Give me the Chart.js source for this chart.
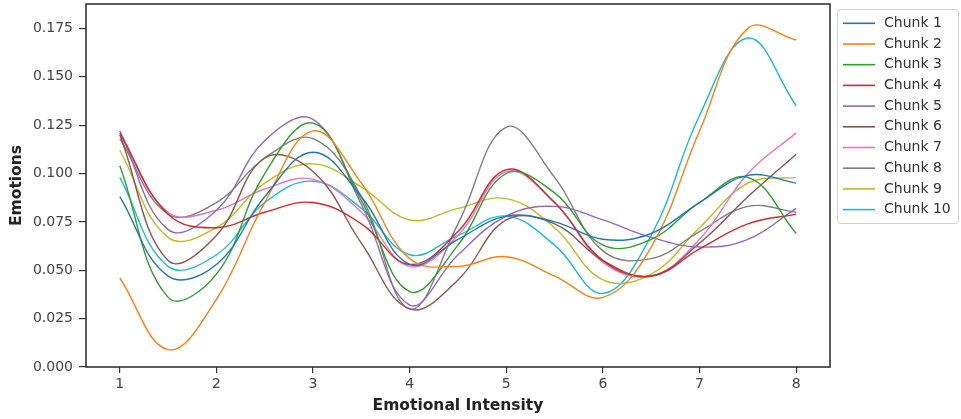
<!DOCTYPE html>
<html>
<head>
<meta charset="utf-8">
<script src="https://cdn.jsdelivr.net/npm/chart.js@4.4.1/dist/chart.umd.min.js"></script>
<style>
  html, body { margin: 0; padding: 0; background: #fff; }
  #wrap { width: 961px; height: 419px; }
</style>
</head>
<body>
<div id="wrap"><canvas id="chart" width="961" height="419"></canvas></div>
<script>
    const intensity = [1, 1.5, 2, 2.5, 3, 3.5, 4, 4.5, 5, 5.5, 6, 6.5, 7, 7.5, 8];

    const chunk1  = [0.088, 0.047, 0.053, 0.088, 0.111, 0.088, 0.053, 0.066, 0.078, 0.075, 0.066, 0.069, 0.085, 0.099, 0.095];
    const chunk2  = [0.046, 0.009, 0.035, 0.085, 0.122, 0.095, 0.056, 0.052, 0.057, 0.047, 0.036, 0.062, 0.122, 0.175, 0.169];
    const chunk3  = [0.104, 0.036, 0.048, 0.100, 0.126, 0.086, 0.039, 0.063, 0.100, 0.090, 0.063, 0.066, 0.085, 0.098, 0.069];
    const chunk4  = [0.121, 0.079, 0.072, 0.080, 0.085, 0.074, 0.053, 0.070, 0.102, 0.085, 0.055, 0.047, 0.061, 0.074, 0.079];
    const chunk5  = [0.122, 0.071, 0.081, 0.117, 0.128, 0.084, 0.032, 0.058, 0.078, 0.083, 0.076, 0.067, 0.062, 0.066, 0.082];
    const chunk6  = [0.120, 0.055, 0.068, 0.108, 0.101, 0.064, 0.030, 0.045, 0.076, 0.074, 0.055, 0.047, 0.064, 0.088, 0.110];
    const chunk7  = [0.120, 0.080, 0.081, 0.092, 0.097, 0.080, 0.052, 0.068, 0.101, 0.085, 0.054, 0.047, 0.066, 0.100, 0.121];
    const chunk8  = [0.118, 0.079, 0.085, 0.108, 0.118, 0.088, 0.030, 0.074, 0.124, 0.098, 0.060, 0.056, 0.070, 0.083, 0.080];
    const chunk9  = [0.112, 0.067, 0.072, 0.095, 0.105, 0.093, 0.076, 0.082, 0.087, 0.072, 0.045, 0.048, 0.072, 0.095, 0.098];
    const chunk10 = [0.098, 0.052, 0.058, 0.085, 0.096, 0.082, 0.058, 0.068, 0.078, 0.063, 0.038, 0.068, 0.130, 0.170, 0.135];

    const seriesNames = ["Chunk 1", "Chunk 2", "Chunk 3", "Chunk 4", "Chunk 5",
                         "Chunk 6", "Chunk 7", "Chunk 8", "Chunk 9", "Chunk 10"];
    const seriesValues = [chunk1, chunk2, chunk3, chunk4, chunk5, chunk6, chunk7, chunk8, chunk9, chunk10];
    const colors = ["#1f77b4", "#ff7f0e", "#2ca02c", "#d62728", "#9467bd",
                    "#8c564b", "#e377c2", "#7f7f7f", "#bcbd22", "#17becf"];

    const xTicks = [1, 2, 3, 4, 5, 6, 7, 8];
    const yTicks = [0, 0.025, 0.05, 0.075, 0.1, 0.125, 0.15, 0.175];

    const datasets = seriesValues.map((vals, i) => ({
      label: seriesNames[i],
      data: intensity.map((x, j) => ({ x, y: vals[j] })),
      borderColor: colors[i],
      backgroundColor: colors[i],
      borderWidth: 1.4,
      pointRadius: 0,
      tension: 0.4,
      fill: false
    }));

    // axes frame like matplotlib
    const frame = {
      id: "frame",
      afterDatasetsDraw(chart) {
        const { ctx, chartArea: a } = chart;
        ctx.save();
        ctx.strokeStyle = "#333";
        ctx.lineWidth = 1.6;
        ctx.strokeRect(a.left, a.top, a.right - a.left, a.bottom - a.top);
        ctx.restore();
      }
    };

    // legend box outside the plot on the right
    const sideLegend = {
      id: "sideLegend",
      afterDraw(chart) {
        const ctx = chart.ctx;
        const x0 = 837, y0 = 9, w = 121, h = 214;
        ctx.save();
        ctx.fillStyle = "#fff";
        ctx.strokeStyle = "#d0d0d0";
        ctx.lineWidth = 1;
        ctx.beginPath();
        ctx.roundRect(x0 + 0.5, y0 + 0.5, w, h, 3);
        ctx.fill();
        ctx.stroke();
        ctx.font = "14px 'DejaVu Sans'";
        ctx.textBaseline = "middle";
        chart.data.datasets.forEach((ds, i) => {
          const y = 23.3 + i * 20.7;
          ctx.strokeStyle = ds.borderColor;
          ctx.lineWidth = 1.6;
          ctx.beginPath();
          ctx.moveTo(843, y);
          ctx.lineTo(875, y);
          ctx.stroke();
          ctx.fillStyle = "#333";
          ctx.fillText(ds.label, 884, y);
        });
        ctx.restore();
      }
    };

    new Chart(document.getElementById("chart"), {
      type: "line",
      data: { datasets },
      options: {
        responsive: false,
        animation: false,
        layout: { padding: { top: 4, right: 131, left: 0, bottom: 0 } },
        plugins: {
          legend: { display: false },
          tooltip: { enabled: false }
        },
        scales: {
          x: {
            type: "linear",
            min: 0.65,
            max: 8.35,
            afterBuildTicks: s => { s.ticks = xTicks.map(v => ({ value: v })); },
            afterFit: s => { s.height = 52; s.paddingLeft = 0; s.paddingRight = 0; },
            border: { display: false },
            grid: { drawOnChartArea: false, drawTicks: true, tickLength: 6, color: "#333", lineWidth: 1.2 },
            ticks: { color: "#444", font: { family: "DejaVu Sans", size: 14 }, padding: 3, maxRotation: 0 },
            title: {
              display: true,
              text: "Emotional Intensity",
              color: "#222",
              font: { family: "DejaVu Sans", size: 15.5, weight: "bold" },
              padding: { top: 0, bottom: 4 }
            }
          },
          y: {
            min: 0,
            max: 0.1876,
            afterBuildTicks: s => { s.ticks = yTicks.map(v => ({ value: v })); },
            afterFit: s => { s.width = 86; s.paddingTop = 0; s.paddingBottom = 0; },
            border: { display: false },
            grid: { drawOnChartArea: false, drawTicks: true, tickLength: 7, color: "#333", lineWidth: 1.2 },
            ticks: {
              color: "#444",
              font: { family: "DejaVu Sans", size: 14 },
              padding: 6,
              callback: v => v.toFixed(3)
            },
            title: {
              display: true,
              text: "Emotions",
              color: "#222",
              font: { family: "DejaVu Sans", size: 15.5, weight: "bold" },
              padding: { top: 8, bottom: 0 }
            }
          }
        }
      },
      plugins: [frame, sideLegend]
    });
</script>
</body>
</html>
